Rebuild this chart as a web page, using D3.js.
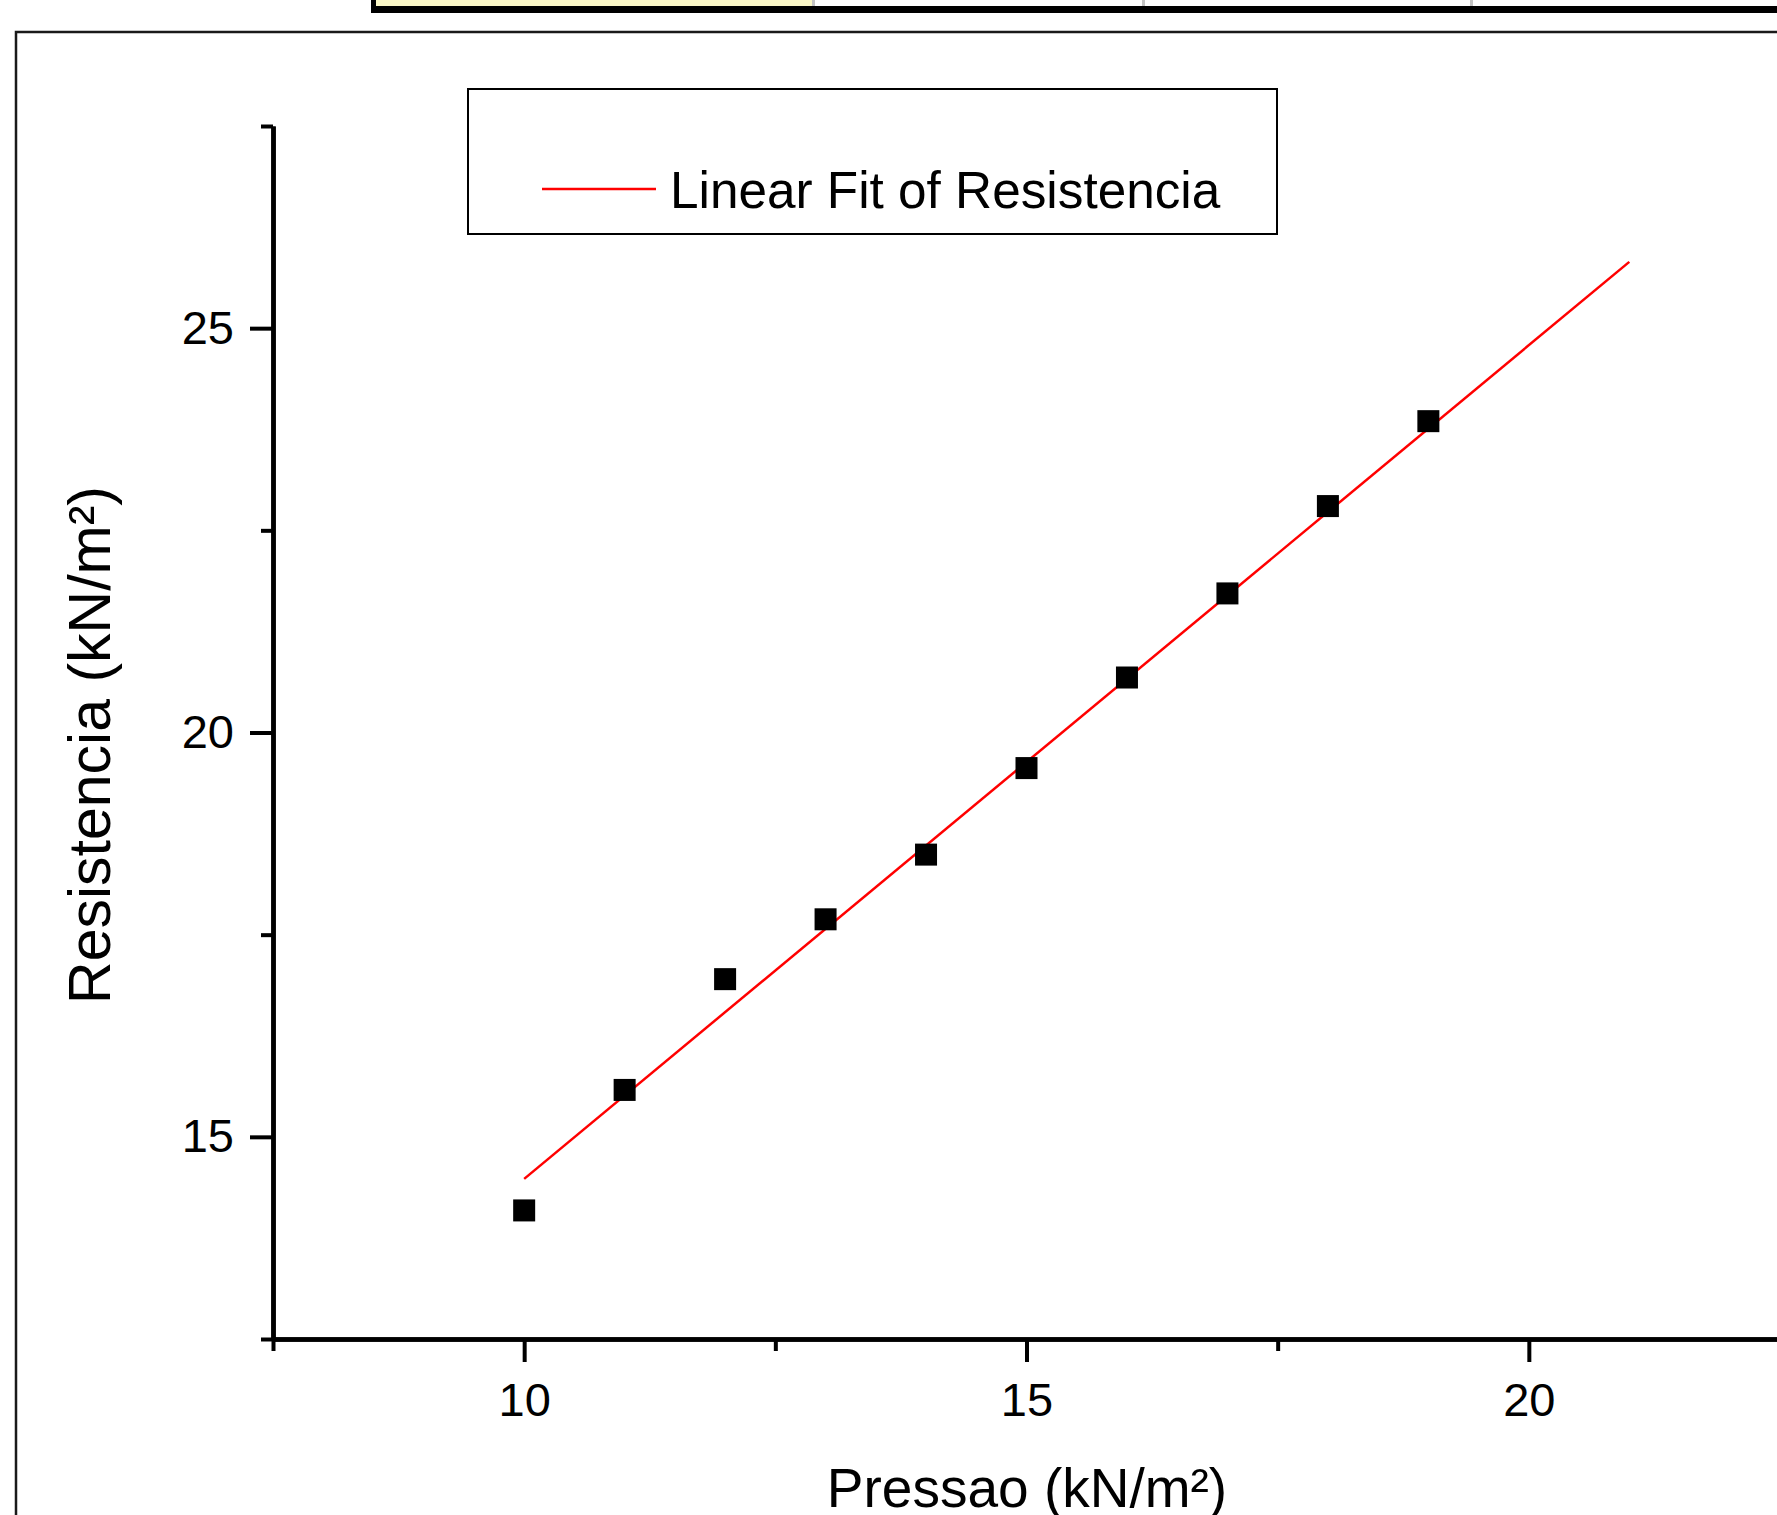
<!DOCTYPE html>
<html>
<head>
<meta charset="utf-8">
<script src="https://cdn.jsdelivr.net/npm/d3@7"></script>
<style>
  body { margin: 0; background: #fff; }
  svg { display: block; font-family: 'Liberation Sans', Arial, sans-serif; }
</style>
</head>
<body>
<div id="chart"></div>
<script>
// data
const pressao = [10, 11, 12, 13, 14, 15, 16, 17, 18, 19]
const resistencia = [14.09, 15.58, 16.95, 17.69, 18.49, 19.56, 20.68, 21.72, 22.80, 23.85]
const fitX = [10, 21]
const fitY = [14.48, 25.82]
const xTicks = [10, 15, 20]
const xMinor = [7.5, 12.5, 17.5, 22.5]
const yTicks = [15, 20, 25]
const yMinor = [12.5, 17.5, 22.5, 27.5]
const legendLabel = 'Linear Fit of Resistencia'
const xTitle = 'Pressao (kN/m²)'
const yTitle = 'Resistencia (kN/m²)'

const W = 1777
const H = 1515
const font = "'Liberation Sans', Arial, sans-serif"

const svg = d3.select('#chart')
  .append('svg')
  .attr('width', W)
  .attr('height', H)

// bits of the window chrome around the graph
const topBar = svg.append('g')
topBar.append('rect').attr('x', 371).attr('y', 0).attr('width', W - 371).attr('height', 13).attr('fill', '#000')
topBar.append('rect').attr('x', 376).attr('y', 0).attr('width', 436).attr('height', 6).attr('fill', '#faf7c6')
topBar.append('rect').attr('x', 812).attr('y', 0).attr('width', W - 812).attr('height', 6).attr('fill', '#fff')
;[812, 1142, 1470].forEach(function (sx) {
  topBar.append('rect').attr('x', sx).attr('y', 0).attr('width', 3).attr('height', 6).attr('fill', '#c4c4c4')
})

svg.append('rect')
  .attr('x', 16).attr('y', 32)
  .attr('width', W).attr('height', H)
  .attr('fill', 'none')
  .attr('stroke', '#1a1a1a')
  .attr('stroke-width', 2.5)

// scales
const x = d3.scaleLinear().domain([7.5, 22.5]).range([273, 1780])
const y = d3.scaleLinear().domain([12.5, 27.5]).range([1339, 126])

function styleAxis (g, size) {
  g.attr('font-family', font).attr('font-size', size)
  g.selectAll('path').attr('stroke-width', 4.5).attr('stroke', '#000')
  g.selectAll('line').attr('stroke-width', 4).attr('stroke', '#000')
  g.selectAll('text').attr('fill', '#000')
}

// y axis
const yMinorAxis = svg.append('g')
  .attr('transform', 'translate(' + x(7.5) + ',0)')
  .call(d3.axisLeft(y).tickValues(yMinor).tickSize(12).tickSizeOuter(0).tickFormat(''))
styleAxis(yMinorAxis, 47)
const yAxis = svg.append('g')
  .attr('transform', 'translate(' + x(7.5) + ',0)')
  .call(d3.axisLeft(y).tickValues(yTicks).tickSize(23).tickSizeOuter(0).tickPadding(16).tickFormat(d3.format('d')))
styleAxis(yAxis, 47)

// x axis
const xMinorAxis = svg.append('g')
  .attr('transform', 'translate(0,' + y(12.5) + ')')
  .call(d3.axisBottom(x).tickValues(xMinor).tickSize(12).tickSizeOuter(0).tickFormat(''))
styleAxis(xMinorAxis, 47)
const xAxis = svg.append('g')
  .attr('transform', 'translate(0,' + y(12.5) + ')')
  .call(d3.axisBottom(x).tickValues(xTicks).tickSize(23).tickSizeOuter(0).tickPadding(21).tickFormat(d3.format('d')))
styleAxis(xAxis, 47)

// axis titles (the x title runs off the bottom edge, as in the original)
svg.append('text')
  .attr('x', 1027)
  .attr('y', 1507)
  .attr('text-anchor', 'middle')
  .attr('font-family', font)
  .attr('font-size', 55)
  .text(xTitle)

svg.append('text')
  .attr('transform', 'translate(110,745) rotate(-90)')
  .attr('text-anchor', 'middle')
  .attr('font-family', font)
  .attr('font-size', 59)
  .text(yTitle)

// linear fit
const line = d3.line()
  .x(function (d) { return x(d[0]) })
  .y(function (d) { return y(d[1]) })
svg.append('path')
  .datum(d3.zip(fitX, fitY))
  .attr('d', line)
  .attr('fill', 'none')
  .attr('stroke', '#ff0000')
  .attr('stroke-width', 2.5)

// data squares
const sq = 22
svg.selectAll('rect.pt')
  .data(d3.zip(pressao, resistencia))
  .enter()
  .append('rect')
  .attr('class', 'pt')
  .attr('x', function (d) { return x(d[0]) - sq / 2 })
  .attr('y', function (d) { return y(d[1]) - sq / 2 })
  .attr('width', sq)
  .attr('height', sq)
  .attr('fill', '#000')

// legend
const legend = svg.append('g')
legend.append('rect')
  .attr('x', 468).attr('y', 89)
  .attr('width', 809).attr('height', 145)
  .attr('fill', '#fff')
  .attr('stroke', '#000')
  .attr('stroke-width', 2)
legend.append('line')
  .attr('x1', 542).attr('x2', 656)
  .attr('y1', 189).attr('y2', 189)
  .attr('stroke', '#ff0000')
  .attr('stroke-width', 2.5)
legend.append('text')
  .attr('x', 670)
  .attr('y', 208)
  .attr('font-family', font)
  .attr('font-size', 51.3)
  .text(legendLabel)
</script>
</body>
</html>
